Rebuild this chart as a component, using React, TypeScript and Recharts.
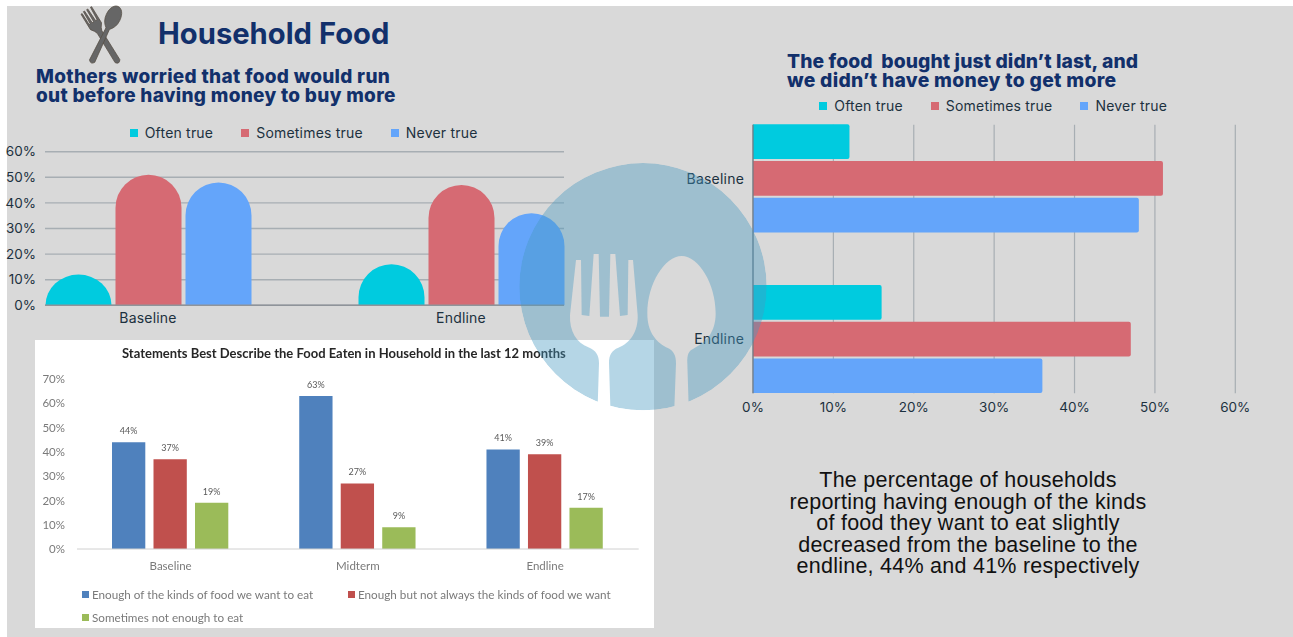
import React from "react";
import { BarChart, Bar, XAxis, YAxis, CartesianGrid, Legend, LabelList } from "recharts";

// Worry question: share of mothers per answer, shown as domed columns
const worryCategories = ["Baseline", "Endline"];
const worryOften = [12, 16];
const worrySometimes = [51, 47];
const worryNever = [48, 36];

// Food-did-not-last question, shown as horizontal bars
const lastCategories = ["Baseline", "Endline"];
const lastOften = [12, 16];
const lastSometimes = [51, 47];
const lastNever = [48, 36];

// Food eaten in the household over three survey rounds
const statementCategories = ["Baseline", "Midterm", "Endline"];
const statementEnough = [44, 63, 41];
const statementNotAlways = [37, 27, 39];
const statementNotEnough = [19, 9, 17];

const pctTicks60 = [0, 10, 20, 30, 40, 50, 60];
const pctTicks70 = [0, 10, 20, 30, 40, 50, 60, 70];

const worryData = worryCategories.map((name, i) => ({
  name,
  often: worryOften[i],
  sometimes: worrySometimes[i],
  never: worryNever[i],
}));
const lastData = lastCategories.map((name, i) => ({
  name,
  often: lastOften[i],
  sometimes: lastSometimes[i],
  never: lastNever[i],
}));
const statementData = statementCategories.map((name, i) => ({
  name,
  enough: statementEnough[i],
  notAlways: statementNotAlways[i],
  notEnough: statementNotEnough[i],
}));

const CYAN = "#00cbdf";
const ROSE = "#d66a73";
const SKY = "#64a5fa";
const NAVY = "#12306b";
const INK = "#1c3140";
const GRID = "#a7aeb3";
const UI_FONT = "Inter, sans-serif";
const OFFICE_FONT = "Lato, sans-serif";
const pct = (v: number) => `${v}%`;

// Column with a dome for its top; the dome flattens on short columns
function DomeBar({ x, y, width, height, fill }: any) {
  const rx = width / 2;
  const ry = Math.min(rx, height);
  return (
    <path
      fill={fill}
      d={`M${x},${y + height} L${x},${y + ry} A${rx},${ry} 0 0 1 ${x + width},${y + ry} L${x + width},${y + height} Z`}
    />
  );
}

function PillLegend({ payload }: any) {
  return (
    <div style={{ display: "flex", alignItems: "center", fontFamily: UI_FONT, fontSize: 14, letterSpacing: 0.2, color: INK, whiteSpace: "nowrap" }}>
      {(payload ?? []).map((p: any) => (
        <span key={p.value} style={{ display: "inline-flex", alignItems: "center", marginRight: 28 }}>
          <span style={{ width: 8, height: 8, background: p.color, marginRight: 7, display: "inline-block" }} />
          {p.value}
        </span>
      ))}
    </div>
  );
}

function OfficeLegend({ payload }: any) {
  const rowStyle = { display: "inline-flex", alignItems: "center" } as const;
  const items = payload ?? [];
  return (
    <div style={{ position: "relative", fontFamily: OFFICE_FONT, fontSize: 11.7, color: "#7a7a7a", whiteSpace: "nowrap", height: 40, width: 560 }}>
      {items.map((p: any, i: number) => (
        <span
          key={p.value}
          style={{ ...rowStyle, position: "absolute", left: i === 1 ? 266 : 0, top: i === 2 ? 23 : 0 }}
        >
          <span style={{ width: 7, height: 7, background: p.color, marginRight: 3, display: "inline-block" }} />
          {p.value}
        </span>
      ))}
    </div>
  );
}

function WorryChart() {
  return (
    <div style={{ position: "absolute", left: 0, top: 120 }}>
      <BarChart
        width={607}
        height={215}
        data={worryData}
        margin={{ top: 31.7, right: 43, bottom: 9.7, left: 0 }}
        barSize={66}
        barGap={4}
      >
        <CartesianGrid vertical={false} stroke={GRID} strokeWidth={1.4} />
        <XAxis
          dataKey="name"
          height={20}
          padding={{ left: -53.5, right: -53.5 }}
          axisLine={{ stroke: "#8f949a", strokeWidth: 1.5 }}
          tickLine={false}
          tickMargin={2}
          tick={{ fontFamily: UI_FONT, fontSize: 14, letterSpacing: 0.2, fill: INK }}
        />
        <YAxis
          width={45}
          domain={[0, 60]}
          ticks={pctTicks60}
          tickFormatter={pct}
          axisLine={false}
          tickLine={false}
          tickMargin={3}
          interval={0}
          tick={{ fontFamily: UI_FONT, fontSize: 13.5, fill: INK }}
        />
        <Legend
          layout="horizontal"
          verticalAlign="middle"
          align="center"
          itemSorter={null}
          content={<PillLegend />}
          wrapperStyle={{ left: 129.7, top: 4, width: 440, height: 18 }}
        />
        <Bar dataKey="often" name="Often true" fill={CYAN} shape={<DomeBar />} isAnimationActive={false} />
        <Bar dataKey="sometimes" name="Sometimes true" fill={ROSE} shape={<DomeBar />} isAnimationActive={false} />
        <Bar dataKey="never" name="Never true" fill={SKY} shape={<DomeBar />} isAnimationActive={false} />
      </BarChart>
    </div>
  );
}

function LastChart() {
  return (
    <div style={{ position: "absolute", left: 680, top: 95 }}>
      <BarChart
        layout="vertical"
        width={600}
        height={325}
        data={lastData}
        margin={{ top: 29.7, right: 44.7, bottom: 6.7, left: 0 }}
        barSize={34.7}
        barGap={2}
      >
        <CartesianGrid horizontal={false} stroke={GRID} strokeWidth={1.2} />
        <XAxis
          type="number"
          height={20}
          domain={[0, 60]}
          ticks={pctTicks60}
          tickFormatter={pct}
          interval={0}
          axisLine={false}
          tickLine={false}
          tickMargin={3}
          tick={{ fontFamily: UI_FONT, fontSize: 13.5, fill: INK }}
        />
        <YAxis
          type="category"
          dataKey="name"
          width={73}
          padding={{ top: -26.4, bottom: -26.4 }}
          axisLine={{ stroke: "#6f7a82", strokeWidth: 1.2 }}
          tickLine={false}
          tickMargin={3}
          tick={{ fontFamily: UI_FONT, fontSize: 14, letterSpacing: 0.2, fill: INK }}
        />
        <Legend
          layout="horizontal"
          verticalAlign="middle"
          align="center"
          itemSorter={null}
          content={<PillLegend />}
          wrapperStyle={{ left: 139.3, top: 2, width: 440, height: 18 }}
        />
        <Bar dataKey="often" name="Often true" fill={CYAN} radius={[0, 2, 2, 0]} isAnimationActive={false} />
        <Bar dataKey="sometimes" name="Sometimes true" fill={ROSE} radius={[0, 2, 2, 0]} isAnimationActive={false} />
        <Bar dataKey="never" name="Never true" fill={SKY} radius={[0, 2, 2, 0]} isAnimationActive={false} />
      </BarChart>
    </div>
  );
}

function StatementChart() {
  const valueLabel = { position: "top" as const, offset: 8, formatter: pct, fontSize: 9, fill: "#595959", fontFamily: OFFICE_FONT };
  return (
    <div style={{ position: "absolute", left: 35, top: 340, width: 618.5, height: 288, background: "#fff", filter: "blur(0.6px)" }}>
      <div
        style={{
          position: "absolute",
          left: 0,
          right: 0,
          top: 5,
          paddingLeft: 87,
          fontFamily: OFFICE_FONT,
          fontWeight: 700,
          fontSize: 13,
          color: "#262626",
          whiteSpace: "nowrap",
        }}
      >
        Statements Best Describe the Food Eaten in Household in the last 12 months
      </div>
      <BarChart
        width={618.5}
        height={288}
        data={statementData}
        margin={{ top: 39, right: 14.8, bottom: 59, left: 0 }}
        barSize={33.3}
        barGap={8.2}
      >
        <XAxis
          dataKey="name"
          height={20}
          axisLine={{ stroke: "#d0d0d0" }}
          tickLine={false}
          tickMargin={7}
          tick={{ fontFamily: OFFICE_FONT, fontSize: 11.5, fill: "#7a7a7a" }}
        />
        <YAxis
          width={42}
          domain={[0, 70]}
          ticks={pctTicks70}
          tickFormatter={pct}
          interval={0}
          axisLine={false}
          tickLine={false}
          tickMargin={6}
          tick={{ fontFamily: OFFICE_FONT, fontSize: 11.5, fill: "#7a7a7a" }}
        />
        <Legend
          layout="horizontal"
          verticalAlign="middle"
          align="center"
          itemSorter={null}
          content={<OfficeLegend />}
          wrapperStyle={{ left: 47, top: 247, width: 560, height: 40 }}
        />
        <Bar dataKey="enough" name="Enough of the kinds of food we want to eat" fill="#4f81bd" isAnimationActive={false}>
          <LabelList dataKey="enough" {...valueLabel} />
        </Bar>
        <Bar dataKey="notAlways" name="Enough but not always the kinds of food we want" fill="#c0504d" isAnimationActive={false}>
          <LabelList dataKey="notAlways" {...valueLabel} />
        </Bar>
        <Bar dataKey="notEnough" name="Sometimes not enough to eat" fill="#9bbb59" isAnimationActive={false}>
          <LabelList dataKey="notEnough" {...valueLabel} />
        </Bar>
      </BarChart>
    </div>
  );
}

// Small crossed fork and spoon beside the heading
function HeaderIcon() {
  return (
    <svg width={60} height={70} viewBox="70 0 60 70" style={{ position: "absolute", left: 70, top: 0 }}>
      <g fill="#666" stroke="#574f45" strokeWidth={0.7} strokeLinejoin="round">
        <g transform="translate(118,62) rotate(-31.6)">
          <path d="M-2.8,-1 Q0,3 2.8,-1 L2.6,-35 Q3,-38 6.5,-42 L6.5,-61 L5.2,-61 L4.4,-47 L2.6,-47 L2,-61 L0.7,-61 L0.4,-47 L-1.4,-47 L-1.8,-61 L-3.1,-61 L-3.6,-47 L-5,-47 L-5.2,-60 L-6.5,-60 L-6.5,-42 Q-3,-38 -2.6,-35 Z" />
        </g>
        <g transform="translate(91.7,62) rotate(25.6)">
          <path d="M-2.9,-1 Q0,3 2.9,-1 L1.9,-37 Q7.4,-42 7.4,-49.5 C7.4,-57 4,-61.5 0,-61.5 C-4,-61.5 -7.4,-57 -7.4,-49.5 Q-7.4,-42 -1.9,-37 Z" />
        </g>
      </g>
    </svg>
  );
}

// Large translucent plate with fork and spoon cut out of it
function PlateWatermark() {
  return (
    <svg width={270} height={270} viewBox="0 0 810 810" style={{ position: "absolute", left: 510, top: 150 }}>
      <defs>
        <mask id="plate-cutouts" maskUnits="userSpaceOnUse" x="0" y="0" width="810" height="810">
          <circle cx="399" cy="410" r="371" fill="#fff" />
          <path
            fill="#000"
            d="M198 330 L213 330 L215 495 L238 498 L251 312 L266 312 L270 500 L297 500 L301 312 L316 312 L330 498 L353 495 L355 330 L369 330 L383 495 C385 545 360 580 325 593 C305 601 297 615 297 640 L302 800 L262 800 L267 640 C267 615 258 602 235 592 C200 578 178 545 180 495 Z"
          />
          <path
            fill="#000"
            d="M515 318 C565 318 617 400 617 490 C617 550 585 580 550 596 C535 603 531 615 532 640 L537 800 L492 800 L498 640 C498 615 490 603 475 595 C440 578 412 550 412 490 C412 400 465 318 515 318 Z"
          />
        </mask>
      </defs>
      <circle cx="399" cy="410" r="371" fill="rgb(70,152,192)" fillOpacity={0.4} mask="url(#plate-cutouts)" />
    </svg>
  );
}

const headingBase = { position: "absolute", fontWeight: 800, color: NAVY, whiteSpace: "pre", fontFamily: UI_FONT } as const;

const summaryLines = [
  "The percentage of households",
  "reporting having enough of the kinds",
  "of food they want to eat slightly",
  "decreased from the baseline to the",
  "endline, 44% and 41% respectively",
];

export default function App() {
  return (
    <div style={{ position: "absolute", left: 0, top: 0, width: 1293, height: 637, background: "#fff", overflow: "hidden" }}>
      <div style={{ position: "absolute", left: 7, top: 6, right: 0, bottom: 0, background: "#d9d9d9" }} />
      <HeaderIcon />
      <div style={{ ...headingBase, left: 158, top: 16, fontSize: 29.2, fontWeight: 700, lineHeight: "36px" }}>Household Food</div>
      <div style={{ ...headingBase, left: 36, top: 68, fontSize: 19, letterSpacing: 0.3, lineHeight: "18.5px" }}>
        {"Mothers worried that food would run\nout before having money to buy more"}
      </div>
      <div style={{ ...headingBase, left: 787, top: 52, fontSize: 19.3, lineHeight: "18.5px" }}>
        <div style={{ letterSpacing: 0.1 }}>{"The food  bought just didn’t last, and"}</div>
        <div style={{ letterSpacing: 0.3 }}>{"we didn’t have money to get more"}</div>
      </div>
      <WorryChart />
      <StatementChart />
      <LastChart />
      <div
        style={{
          position: "absolute",
          left: 768,
          top: 470,
          width: 400,
          textAlign: "center",
          fontFamily: "'Liberation Sans', sans-serif",
          fontSize: 21.5,
          letterSpacing: 0.25,
          lineHeight: "21.6px",
          color: "#111",
        }}
      >
        {summaryLines.map((line) => (
          <div key={line}>{line}</div>
        ))}
      </div>
      <PlateWatermark />
    </div>
  );
}
